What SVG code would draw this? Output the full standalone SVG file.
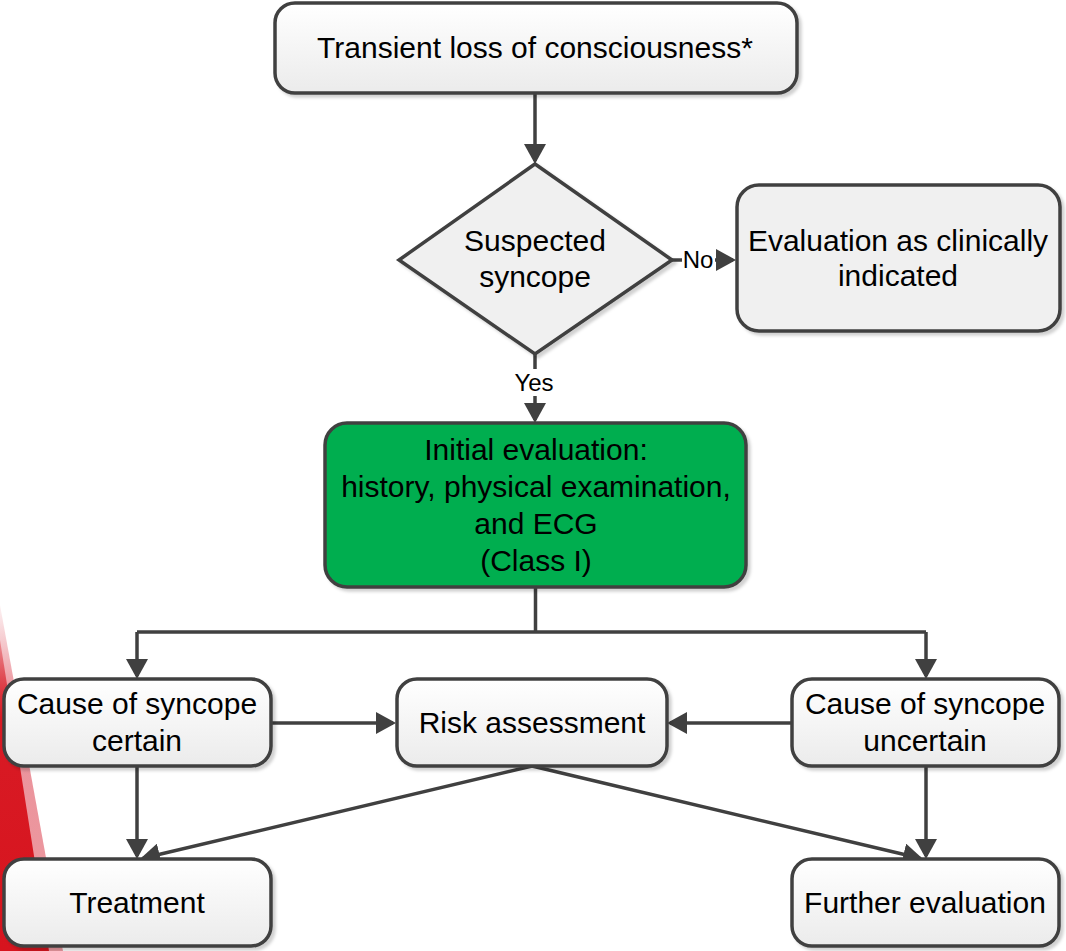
<svg xmlns="http://www.w3.org/2000/svg" width="1066" height="951" viewBox="0 0 1066 951">
<defs>
<linearGradient id="boxg" x1="0" y1="0" x2="0" y2="1">
<stop offset="0" stop-color="#ffffff"/>
<stop offset="1" stop-color="#ebebeb"/>
</linearGradient>
<linearGradient id="redg" x1="0" y1="0" x2="0" y2="1">
<stop offset="0" stop-color="#d7141e" stop-opacity="0.3"/>
<stop offset="0.25" stop-color="#d7141e" stop-opacity="0.95"/>
<stop offset="1" stop-color="#d7141e"/>
</linearGradient>
<linearGradient id="pinkg" x1="0" y1="0" x2="0" y2="1">
<stop offset="0" stop-color="#e8808a" stop-opacity="0.1"/>
<stop offset="0.25" stop-color="#e8808a" stop-opacity="0.85"/>
<stop offset="1" stop-color="#ec9aa1"/>
</linearGradient>
<filter id="sh" x="-10%" y="-10%" width="130%" height="130%">
<feDropShadow dx="3" dy="3" stdDeviation="1.5" flood-color="#000" flood-opacity="0.18"/>
</filter>
<marker id="arr" viewBox="0 0 20 22" refX="17" refY="11" markerWidth="20" markerHeight="22" markerUnits="userSpaceOnUse" orient="auto">
<path d="M0,0 L20,11 L0,22 Z" fill="#404040"/>
</marker>
</defs>
<style>
.box{fill:url(#boxg);stroke:#404040;stroke-width:3.5;filter:url(#sh)}
.flat{fill:#f0f0f0;stroke:#404040;stroke-width:3.5;filter:url(#sh)}
.green{fill:#00ae4f;stroke:#404040;stroke-width:3.5;filter:url(#sh)}
.t{font-family:"Liberation Sans",Arial,sans-serif;font-size:30px;fill:#000;text-anchor:middle}
.lbl{font-family:"Liberation Sans",Arial,sans-serif;font-size:24px;fill:#000;text-anchor:middle}
.c{fill:none;stroke:#404040;stroke-width:3.5}
.ca{fill:none;stroke:#404040;stroke-width:3.5;marker-end:url(#arr)}
</style>
<rect width="1066" height="951" fill="#ffffff"/>
<g id="decor">
<polygon points="0,605 63,951 0,951" fill="url(#pinkg)"/>
<polygon points="0,640 49,951 0,951" fill="url(#redg)"/>
</g>
<g id="connectors">
<path class="ca" d="M535,93 L535,161"/>
<path class="ca" d="M672,260 L733,260"/>
<path class="ca" d="M535,354 L535,420"/>
<path class="c" d="M535.5,587 L535.5,632 M137,632 L926,632"/>
<path class="ca" d="M137,632 L137,676"/>
<path class="ca" d="M926,632 L926,676"/>
<path class="ca" d="M271,723 L393,723"/>
<path class="ca" d="M792,723 L670,723"/>
<path class="ca" d="M137,766 L137,856"/>
<path class="ca" d="M926,766 L926,856"/>
<path class="ca" d="M532,766 L142.9,858.3"/>
<path class="ca" d="M532,766 L920.1,858.3"/>
<rect x="682" y="247" width="33" height="26" fill="#ffffff"/>
<text class="lbl" x="698" y="268">No</text>
<rect x="511" y="369" width="48" height="27" fill="#ffffff"/>
<text class="lbl" x="534" y="391">Yes</text>
</g>
<g id="n-tloc">
<rect class="box" x="275" y="3" width="522" height="90" rx="20"/>
<text class="t" x="535" y="58">Transient loss of consciousness*</text>
</g>
<g id="n-suspected">
<polygon class="flat" points="535,164 672,260 535,354 399,260"/>
<text class="t" x="535" y="251">Suspected</text>
<text class="t" x="535" y="287">syncope</text>
</g>
<g id="n-evalclin">
<rect class="flat" x="737" y="185" width="323" height="146" rx="22"/>
<text class="t" x="898" y="251">Evaluation as clinically</text>
<text class="t" x="898" y="286">indicated</text>
</g>
<g id="n-initial">
<rect class="green" x="325" y="423" width="421" height="164" rx="22"/>
<text class="t" x="536" y="460">Initial evaluation:</text>
<text class="t" x="536" y="497">history, physical examination,</text>
<text class="t" x="536" y="534">and ECG</text>
<text class="t" x="536" y="571">(Class I)</text>
</g>
<g id="n-certain">
<rect class="box" x="4" y="679" width="267" height="87" rx="20"/>
<text class="t" x="137" y="714">Cause of syncope</text>
<text class="t" x="137" y="751">certain</text>
</g>
<g id="n-risk">
<rect class="box" x="397" y="679" width="270" height="87" rx="20"/>
<text class="t" x="532" y="733">Risk assessment</text>
</g>
<g id="n-uncertain">
<rect class="box" x="792" y="679" width="267" height="87" rx="20"/>
<text class="t" x="925" y="714">Cause of syncope</text>
<text class="t" x="925" y="751">uncertain</text>
</g>
<g id="n-treatment">
<rect class="box" x="4" y="859" width="267" height="87" rx="20"/>
<text class="t" x="137" y="913">Treatment</text>
</g>
<g id="n-further">
<rect class="box" x="792" y="859" width="267" height="87" rx="20"/>
<text class="t" x="925" y="913">Further evaluation</text>
</g>
</svg>
